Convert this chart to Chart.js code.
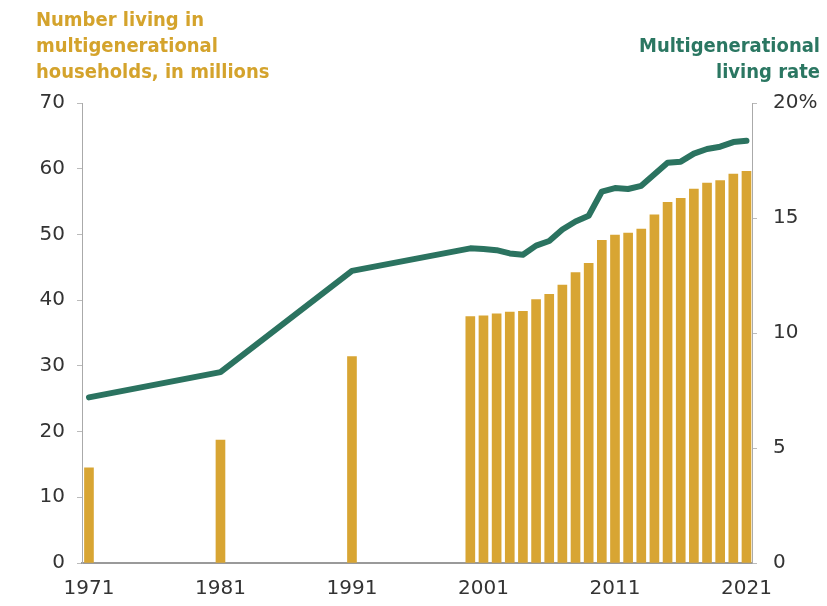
<!DOCTYPE html>
<html>
<head>
<meta charset="utf-8">
<script src="https://cdn.jsdelivr.net/npm/chart.js@4.4.1/dist/chart.umd.min.js"></script>
<style>
  body { margin: 0; background: #fff; }
  #wrap { position: relative; width: 827px; height: 606px; }
  .head { position: absolute; font-family: "Liberation Sans Narrow", "DejaVu Sans Condensed", sans-serif; font-weight: bold; font-size: 20px; line-height: 26px; }
  #headLeft { left: 36px; top: 6px; color: #d4a32c; }
  #headRight { right: 7px; top: 32px; color: #2b7762; text-align: right; }
</style>
</head>
<body>
<div id="wrap">
  <canvas id="chart"></canvas>
  <div class="head" id="headLeft">Number living in<br>multigenerational<br>households, in millions</div>
  <div class="head" id="headRight">Multigenerational<br>living rate</div>
</div>
<script>
// Data
const barYears = [1971, 1981, 1991, 2000, 2001, 2002, 2003, 2004, 2005, 2006, 2007, 2008, 2009,
  2010, 2011, 2012, 2013, 2014, 2015, 2016, 2017, 2018, 2019, 2020, 2021];
const livingMillions = [14.5, 18.7, 31.4, 37.5, 37.6, 37.9, 38.2, 38.3, 40.1, 40.9, 42.3, 44.2, 45.6,
  49.1, 49.9, 50.2, 50.8, 53.0, 54.9, 55.5, 56.9, 57.8, 58.2, 59.2, 59.6];
const rateYears = barYears;
const ratePercent = [7.2, 8.3, 12.7, 13.68, 13.65, 13.6, 13.46, 13.4, 13.8, 14.0, 14.5, 14.85, 15.1,
  16.15, 16.3, 16.26, 16.4, 16.9, 17.4, 17.45, 17.8, 18.0, 18.1, 18.3, 18.36];
const xTickYears = [1971, 1981, 1991, 2001, 2011, 2021];
const leftTicks = [0, 10, 20, 30, 40, 50, 60, 70];
const rightTicks = [0, 5, 10, 15, 20];

const tickFont = { family: "DejaVu Sans", size: 20 };
const tickColor = "#333";

new Chart(document.getElementById("chart"), {
  type: "bar",
  data: {
    datasets: [
      {
        type: "line",
        label: "Multigenerational living rate",
        data: rateYears.map((yr, i) => ({ x: yr, y: ratePercent[i] })),
        yAxisID: "yr",
        borderColor: "#2b7360",
        borderWidth: 6,
        pointRadius: 0,
        tension: 0,
        borderCapStyle: "round",
        borderJoinStyle: "round",
        order: 0
      },
      {
        type: "bar",
        label: "Number living in multigenerational households, in millions",
        data: barYears.map((yr, i) => ({ x: yr, y: livingMillions[i] })),
        yAxisID: "y",
        backgroundColor: "#d8a533",
        barThickness: 9,
        order: 1
      }
    ]
  },
  options: {
    responsive: true,
    maintainAspectRatio: false,
    animation: false,
    layout: { padding: { top: 103, left: 0, right: 0, bottom: 0 } },
    plugins: { legend: { display: false }, tooltip: { enabled: false } },
    scales: {
      x: {
        type: "linear",
        offset: false,
        min: 1970.47,
        max: 2021.42,
        afterBuildTicks: (axis) => { axis.ticks = xTickYears.map((v) => ({ value: v })); },
        afterFit: (axis) => { axis.height = 43; },
        ticks: {
          autoSkip: false,
          maxRotation: 0,
          padding: 6,
          color: tickColor,
          font: tickFont,
          callback: (v) => String(v)
        },
        grid: { display: false },
        border: { display: true, color: "#9a9a9a", width: 2 }
      },
      y: {
        position: "left",
        min: 0,
        max: 70,
        afterBuildTicks: (axis) => { axis.ticks = leftTicks.map((v) => ({ value: v })); },
        afterFit: (axis) => { axis.width = 82; },
        ticks: { color: tickColor, font: tickFont, padding: 12 },
        grid: { drawOnChartArea: false, drawTicks: true, tickLength: 5, color: "#bbb" },
        border: { display: true, color: "#aaa", width: 1, dash: [1, 2] }
      },
      yr: {
        position: "right",
        min: 0,
        max: 20,
        afterBuildTicks: (axis) => { axis.ticks = rightTicks.map((v) => ({ value: v })); },
        afterFit: (axis) => { axis.width = 75; },
        ticks: {
          color: tickColor,
          font: tickFont,
          padding: 16,
          callback: (v) => (v === 20 ? "20%" : String(v))
        },
        grid: { drawOnChartArea: false, drawTicks: true, tickLength: 5, color: "#bbb" },
        border: { display: true, color: "#aaa", width: 1, dash: [1, 2] }
      }
    }
  }
});
</script>
</body>
</html>
